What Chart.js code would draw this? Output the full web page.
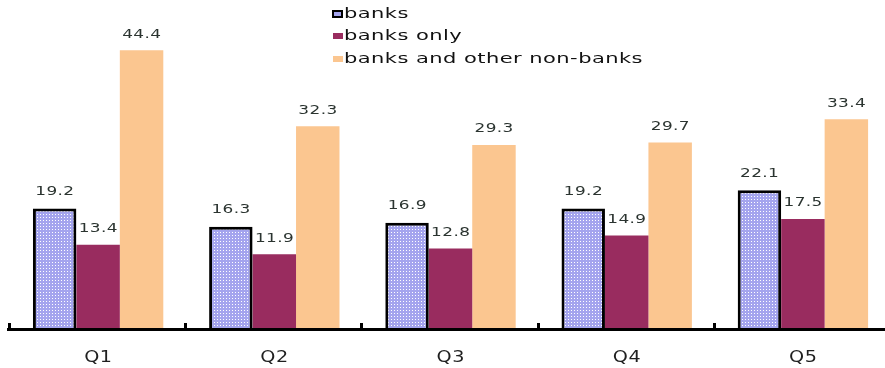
<!DOCTYPE html>
<html>
<head>
<meta charset="utf-8">
<script src="https://cdn.jsdelivr.net/npm/chart.js@4/dist/chart.umd.min.js"></script>
<style>
  html, body { margin: 0; padding: 0; background: #fff; overflow: hidden; }
  #wrap { width: 895px; height: 368px; }
</style>
</head>
<body>
<div id="wrap"><canvas id="quintileChart" width="895" height="368"></canvas></div>
<script>
const quintiles = ['Q1', 'Q2', 'Q3', 'Q4', 'Q5'];
const banks = [19.2, 16.3, 16.9, 19.2, 22.1];
const banksOnly = [13.4, 11.9, 12.8, 14.9, 17.5];
const banksAndNonBanks = [44.4, 32.3, 29.3, 29.7, 33.4];

// dotted lavender fill used for the "banks" series
function dotPattern() {
  const tile = document.createElement('canvas');
  tile.width = 3;
  tile.height = 3;
  const c = tile.getContext('2d');
  c.fillStyle = '#a4a4ee';
  c.fillRect(0, 0, 3, 3);
  c.fillStyle = '#ffffff';
  c.fillRect(1, 1, 1, 1);
  return c.createPattern(tile, 'repeat');
}
const bankFill = dotPattern();

const FONT = '"DejaVu Sans", sans-serif';

// text in a wide, horizontally stretched face
function wideText(ctx, text, x, y, size, stretch, spacing, align) {
  ctx.save();
  ctx.font = size + 'px ' + FONT;
  ctx.letterSpacing = spacing + 'px';
  ctx.textBaseline = 'middle';
  ctx.textAlign = 'left';
  const w = (ctx.measureText(text).width - spacing) * stretch;
  const left = align === 'center' ? x - w / 2 : x;
  ctx.translate(left, y);
  ctx.scale(stretch, 1);
  ctx.fillText(text, 0, 0);
  ctx.restore();
}

// value labels above each bar
const valueLabels = {
  id: 'valueLabels',
  afterDatasetsDraw(chart) {
    const ctx = chart.ctx;
    ctx.fillStyle = '#2b3430';
    chart.data.datasets.forEach((ds, i) => {
      chart.getDatasetMeta(i).data.forEach((bar, j) => {
        const lift = i === 0 ? 17 : 16;
        wideText(ctx, ds.data[j].toFixed(1), bar.x, bar.y - lift, 13, 1.3, 0.3, 'center');
      });
    });
  }
};

// axis line, short upward ticks, category labels and legend
const extras = {
  id: 'extras',
  afterDraw(chart) {
    const ctx = chart.ctx;
    const x = chart.scales.x;
    const area = chart.chartArea;
    ctx.save();
    ctx.fillStyle = '#000';
    ctx.fillRect(7, area.bottom - 1, chart.width, 3);
    const step = (area.right - area.left) / quintiles.length;
    for (let i = 0; i <= quintiles.length; i++) {
      const px = Math.round(area.left + i * step);
      ctx.fillRect(px - 2, area.bottom - 6, 3, 6);
    }

    ctx.fillStyle = '#1f1f1f';
    quintiles.forEach((q, i) => {
      wideText(ctx, q, x.getPixelForTick(i), area.bottom + 29, 16, 1.2, 0.5, 'center');
    });

    const lx = 332, rows = [14, 36, 59];
    chart.data.datasets.forEach((ds, i) => {
      const y = rows[i];
      if (i === 0) {
        ctx.fillStyle = '#000';
        ctx.fillRect(lx, y - 4, 11, 8);
        ctx.fillStyle = '#a4a4ee';
        ctx.fillRect(lx + 2, y - 2, 7, 4);
      } else {
        ctx.fillStyle = ds.backgroundColor;
        ctx.fillRect(lx + 1, y - 3, 10, 6);
      }
      ctx.fillStyle = '#111';
      wideText(ctx, ds.label, lx + 12, y, 14, 1.5, 0.3, 'left');
    });
    ctx.restore();
  }
};

new Chart(document.getElementById('quintileChart'), {
  type: 'bar',
  data: {
    labels: quintiles,
    datasets: [{
      label: 'banks',
      data: banks,
      backgroundColor: bankFill,
      borderColor: '#000',
      borderWidth: 3
    }, {
      label: 'banks only',
      data: banksOnly,
      backgroundColor: '#992c5f',
      borderWidth: 0
    }, {
      label: 'banks and other non-banks',
      data: banksAndNonBanks,
      backgroundColor: '#fbc690',
      borderWidth: 0
    }]
  },
  options: {
    responsive: false,
    animation: false,
    layout: { padding: { left: 10, right: 4, top: 15, bottom: 0 } },
    datasets: {
      bar: { barPercentage: 1.0, categoryPercentage: 0.74 }
    },
    scales: {
      x: {
        grid: { display: false, drawTicks: false },
        border: { display: false },
        ticks: { display: false },
        afterFit(scale) { scale.height = 39; }
      },
      y: {
        display: false,
        min: 0,
        max: 50
      }
    },
    plugins: {
      legend: { display: false },
      tooltip: { enabled: false }
    }
  },
  plugins: [valueLabels, extras]
});
</script>
</body>
</html>
